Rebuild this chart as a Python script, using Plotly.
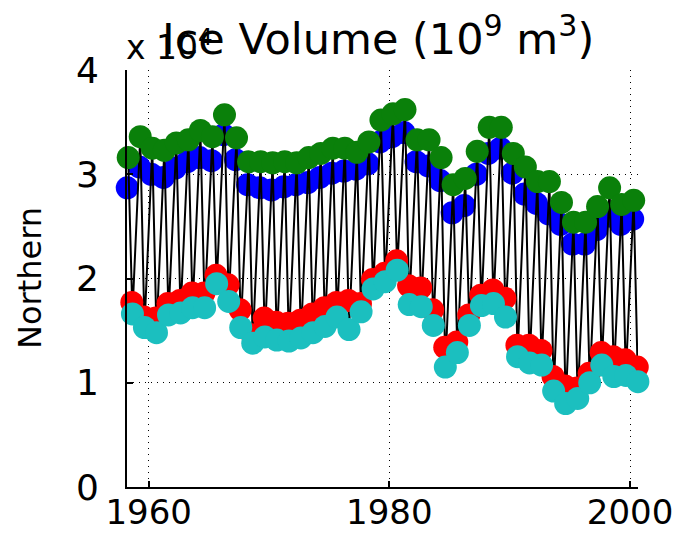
import plotly.graph_objects as go

years = list(range(1958, 2001))

# annual markers, units of 10^4 (x 10^9 m^3)
green_max = [3.16, 3.36, 3.25, 3.23, 3.30, 3.33, 3.42, 3.36, 3.57, 3.35,
             3.12, 3.12, 3.11, 3.12, 3.11, 3.16, 3.20, 3.25, 3.25, 3.21,
             3.31, 3.52, 3.58, 3.62, 3.33, 3.33, 3.16, 2.90, 2.96, 3.22,
             3.45, 3.45, 3.20, 3.07, 2.93, 2.93, 2.73, 2.54, 2.54, 2.69,
             2.87, 2.71, 2.75]
blue_vals = [2.87, 3.07, 3.00, 2.97, 3.06, 3.12, 3.16, 3.13, 3.38, 3.14,
             2.90, 2.87, 2.85, 2.88, 2.90, 2.92, 2.97, 3.01, 3.03, 3.05,
             3.10, 3.31, 3.36, 3.40, 3.12, 3.08, 2.94, 2.63, 2.70, 3.00,
             3.20, 3.25, 3.01, 2.81, 2.72, 2.62, 2.52, 2.33, 2.33, 2.47,
             2.60, 2.52, 2.57]
red_vals = [1.77, 1.63, 1.62, 1.76, 1.79, 1.86, 1.86, 2.03, 1.94, 1.70,
            1.46, 1.62, 1.58, 1.57, 1.60, 1.66, 1.72, 1.77, 1.79, 1.76,
            1.99, 2.05, 2.17, 1.93, 1.91, 1.70, 1.34, 1.39, 1.65, 1.84,
            1.89, 1.81, 1.36, 1.36, 1.31, 1.06, 0.97, 0.95, 1.09, 1.29,
            1.25, 1.22, 1.15]
cyan_vals = [1.66, 1.53, 1.48, 1.65, 1.67, 1.72, 1.72, 1.95, 1.78, 1.53,
             1.38, 1.44, 1.41, 1.40, 1.43, 1.48, 1.54, 1.63, 1.51, 1.68,
             1.90, 1.97, 2.08, 1.75, 1.73, 1.55, 1.15, 1.29, 1.55, 1.74,
             1.76, 1.63, 1.25, 1.19, 1.17, 0.92, 0.80, 0.85, 1.00, 1.17,
             1.06, 1.07, 1.01]

x_ticks = [1960, 1980, 2000]
y_ticks = [0, 1, 2, 3, 4]

# time within each year at which each marker sits
x_green = [y + 0.30 for y in years]
x_blue = [y + 0.22 for y in years]
x_red = [y + 0.60 for y in years]
x_cyan = [y + 0.65 for y in years]

line_x, line_y = [], []
for i in range(len(years)):
    line_x += [x_green[i], x_red[i], x_cyan[i]]
    line_y += [green_max[i], red_vals[i], cyan_vals[i]]

msize = 23
fig = go.Figure()
fig.add_trace(go.Scatter(x=x_blue, y=blue_vals, mode="markers",
                         marker=dict(color="#0000ff", size=msize, line=dict(width=0)),
                         cliponaxis=False))
fig.add_trace(go.Scatter(x=line_x, y=line_y, mode="lines",
                         line=dict(color="black", width=2), cliponaxis=False))
fig.add_trace(go.Scatter(x=x_green, y=green_max, mode="markers",
                         marker=dict(color="#0a800a", size=msize, line=dict(width=0)),
                         cliponaxis=False))
fig.add_trace(go.Scatter(x=x_red, y=red_vals, mode="markers",
                         marker=dict(color="#ff0000", size=msize, line=dict(width=0)),
                         cliponaxis=False))
fig.add_trace(go.Scatter(x=x_cyan, y=cyan_vals, mode="markers",
                         marker=dict(color="#1bbfbf", size=msize, line=dict(width=0)),
                         cliponaxis=False))

# page body has an 8px margin: work in screen pixels, shift by OFF
OFF = 8
W, H = 685, 534
L, T = 127 - OFF, 70 - OFF
pw, ph = 511, 417
R = W - L - pw
B = H - T - ph

def px(xs):
    return (xs - OFF - L) / pw

def py(ys):
    return (T + ph - (ys - OFF)) / ph

fig.update_layout(
    width=W, height=H,
    margin=dict(l=L, r=R, t=T, b=B, autoexpand=False),
    plot_bgcolor="white", paper_bgcolor="white",
    showlegend=False,
    font=dict(family="DejaVu Sans", color="black"),
)
axis_common = dict(
    automargin=False,
    ticks="inside", ticklen=6, tickwidth=1.5, tickcolor="black",
    showline=True, linecolor="black", linewidth=2,
    showgrid=True, gridcolor="black", gridwidth=1, griddash="1px,5px",
    zeroline=False,
)
fig.update_xaxes(range=[1958.2, 2000.66], tickvals=x_ticks,
                 ticktext=[str(v) for v in x_ticks], ticklabelstandoff=-6,
                 tickfont=dict(size=34, family="DejaVu Sans", color="black"),
                 **axis_common)
fig.update_yaxes(range=[0, 4], tickvals=y_ticks,
                 ticktext=[str(v) for v in y_ticks], ticklabelstandoff=19,
                 tickfont=dict(size=36, family="DejaVu Sans", color="black"),
                 **axis_common)

fig.add_annotation(text="Ice Volume (10<sup>9</sup> m<sup>3</sup>)",
                   xref="paper", yref="paper", x=px(378), y=py(36),
                   xanchor="center", yanchor="middle", showarrow=False,
                   font=dict(size=43, family="DejaVu Sans", color="black"))
fig.add_annotation(text="x 10<sup>4</sup>",
                   xref="paper", yref="paper", x=px(124), y=py(46),
                   xanchor="left", yanchor="middle", showarrow=False,
                   font=dict(size=33, family="DejaVu Sans", color="black"))
fig.add_annotation(text="Northern", textangle=-90,
                   xref="paper", yref="paper", x=px(30), y=py(278),
                   xanchor="center", yanchor="middle", showarrow=False,
                   font=dict(size=32, family="DejaVu Sans", color="black"))

fig.write_html("out.html")
